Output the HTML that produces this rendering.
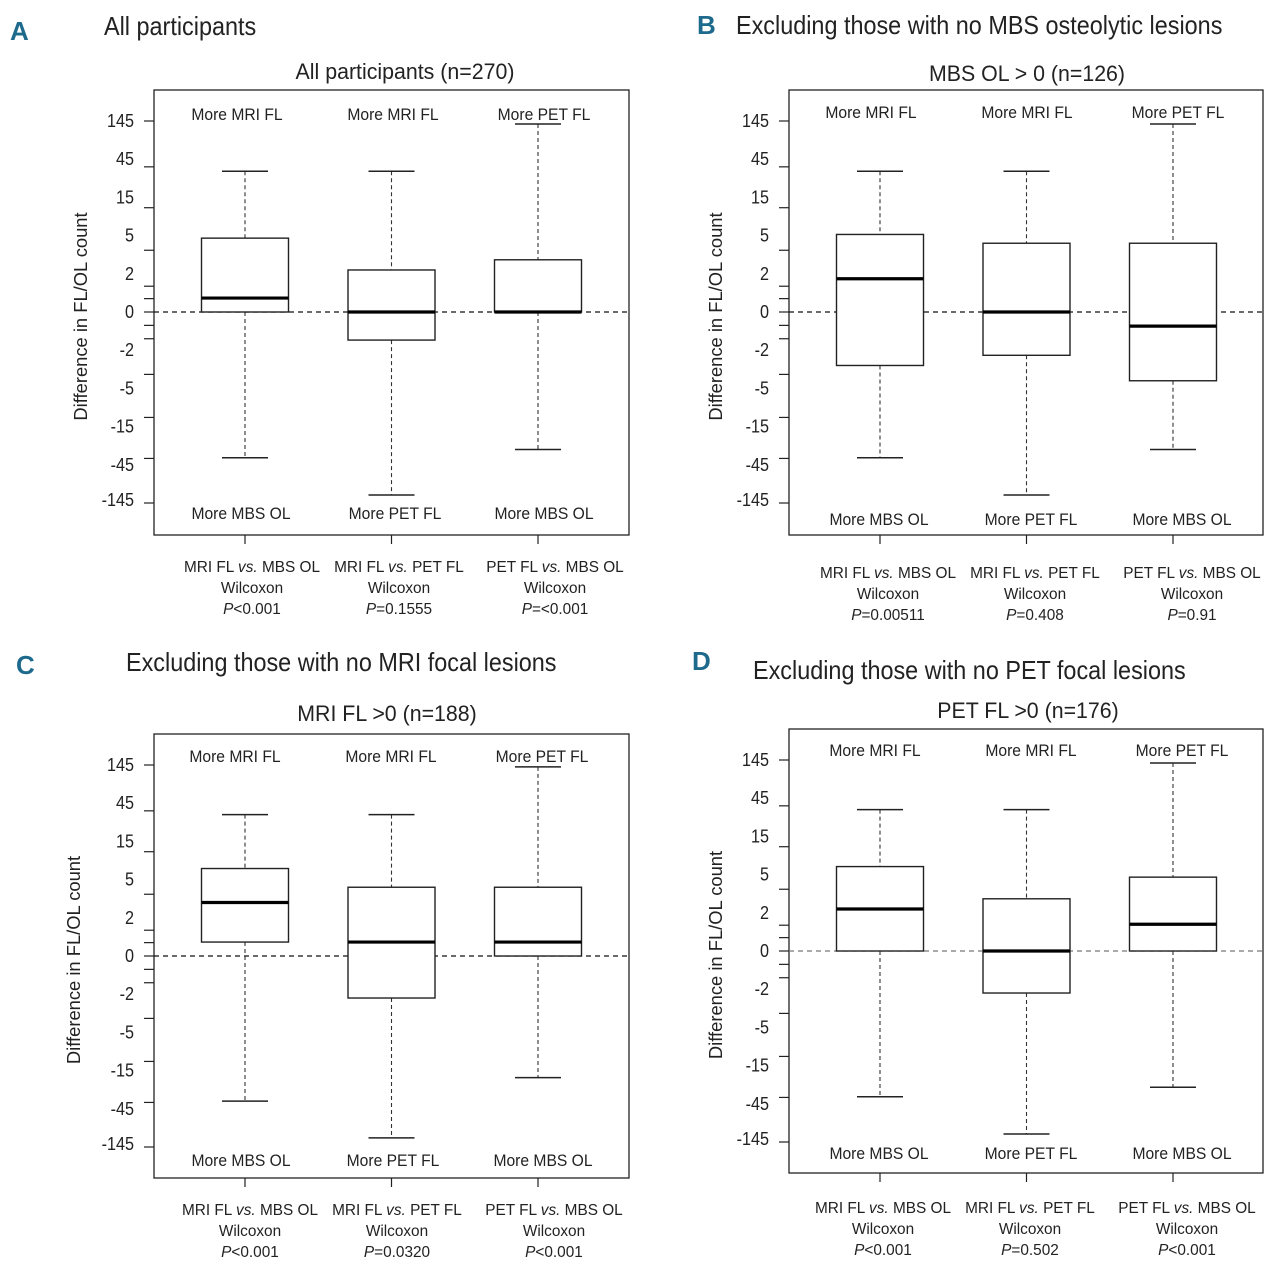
<!DOCTYPE html>
<html><head><meta charset="utf-8"><style>
html,body{margin:0;padding:0;background:#fff}
svg{display:block;font-family:"Liberation Sans Narrow","Liberation Sans",sans-serif;fill:#222}
.ttl{font-size:26px}.sub{font-size:22px}.in{font-size:17px}.xl{font-size:16px}.tk{font-size:18px}.lt{font-size:26px;font-weight:bold;fill:#1d6a8c;font-family:"Liberation Sans",sans-serif}
</style></head><body>
<svg id="chart" width="1280" height="1273" viewBox="0 0 1280 1273" xmlns="http://www.w3.org/2000/svg"></svg>
<script>
// shared axis tick labels (signed pseudo-log scale)
const scaleLabels=[-145,-45,-15,-5,-2,0,2,5,15,45,145];
const tickValues=[145,39,12.3,3.85,1.35,0.7,0,-0.7,-1.4,-3.9,-12.6,-40,-145];
const categories=["MRI FL vs. MBS OL","MRI FL vs. PET FL","PET FL vs. MBS OL"];
const topNotes=["More MRI FL","More MRI FL","More PET FL"];
const bottomNotes=["More MBS OL","More PET FL","More MBS OL"];
// Panel A
const aLow=[-39.5,-124,-33];const aQ1=[0,-1.47,0];const aMed=[0.73,0,0];const aQ3=[4.8,2.3,3.1];const aHigh=[35.5,35.5,137];
const aP=["P<0.001","P=0.1555","P=<0.001"];
// Panel B
const bLow=[-39.5,-124,-33];const bQ1=[-3.2,-2.4,-4.4];const bMed=[1.74,0,-0.74];const bQ3=[5.3,4.4,4.4];const bHigh=[35.5,35.5,137];
const bP=["P=0.00511","P=0.408","P=0.91"];
// Panel C
const cLow=[-39,-121,-20.5];const cQ1=[0.73,-2.3,0];const cMed=[3.2,0.73,0.73];const cQ3=[7.9,4.4,4.4];const cHigh=[36,36,140];
const cP=["P<0.001","P=0.0320","P<0.001"];
// Panel D
const dLow=[-39.5,-124,-32];const dQ1=[0,-2.3,0];const dMed=[2.3,0,1.4];const dQ3=[7.1,3.1,4.8];const dHigh=[36,36,137];
const dP=["P<0.001","P=0.502","P<0.001"];

const NS="http://www.w3.org/2000/svg";
const svg=document.getElementById('chart');
function mk(tag,attrs,parent,txt){const e=document.createElementNS(NS,tag);for(const k in attrs)e.setAttribute(k,attrs[k]);if(txt!==undefined)e.textContent=txt;(parent||svg).appendChild(e);return e;}

const panels=[
 {id:'a',letter:'A',lx:10,ly:40,title:'All participants',tx:104,ty:35,sub:'All participants (n=270)',sx:405,sy:79,box:[154,90,629,535],zero:312,titleY:87,
  low:aLow,q1:aQ1,med:aMed,q3:aQ3,high:aHigh,p:aP,xl:[252,399,555],xly:566,inT:114,inB:513,inTx:[237,393,544],inBx:[241,395,544],dashCol:'#111'},
 {id:'b',letter:'B',lx:697,ly:34,title:'Excluding those with no MBS osteolytic lesions',tx:736,ty:34,sub:'MBS OL > 0 (n=126)',sx:1027,sy:81,box:[789,90,1263,535],zero:312,titleY:722,
  low:bLow,q1:bQ1,med:bMed,q3:bQ3,high:bHigh,p:bP,xl:[888,1035,1192],xly:572,inT:112,inB:519,inTx:[871,1027,1178],inBx:[879,1031,1182],dashCol:'#111'},
 {id:'c',letter:'C',lx:16,ly:674,title:'Excluding those with no MRI focal lesions',tx:126,ty:671,sub:'MRI FL >0 (n=188)',sx:387,sy:721,box:[154,734,629,1178],zero:956,titleY:80,
  low:cLow,q1:cQ1,med:cMed,q3:cQ3,high:cHigh,p:cP,xl:[250,397,554],xly:1209,inT:756,inB:1160,inTx:[235,391,542],inBx:[241,393,543],dashCol:'#111'},
 {id:'d',letter:'D',lx:692,ly:670,title:'Excluding those with no PET focal lesions',tx:753,ty:679,sub:'PET FL >0 (n=176)',sx:1028,sy:718,box:[789,729,1263,1173],zero:951,titleY:722,
  low:dLow,q1:dQ1,med:dMed,q3:dQ3,high:dHigh,p:dP,xl:[883,1030,1187],xly:1207,inT:750,inB:1153,inTx:[875,1031,1182],inBx:[879,1031,1182],dashCol:'#777'}
];
const STEP=38.2;
function yScale(v,zero){
  const L=scaleLabels;let idx;
  if(v<=L[0])idx=0;else if(v>=L[L.length-1])idx=L.length-1;else{
    for(let i=0;i<L.length-1;i++){if(v>=L[i]&&v<=L[i+1]){idx=i+(v-L[i])/(L[i+1]-L[i]);break;}}
  }
  return zero-(idx-5)*STEP;
}
panels.forEach(P=>{
  const g=mk('g',{});
  
  
  const [x0,y0,x1,y1]=P.box;
  const y=v=>yScale(v,P.zero);
  let t=mk('text',{x:P.lx,y:P.ly,class:'lt'},g,P.letter);
  
  
  t=mk('text',{x:P.tx,y:P.ty,class:'ttl'},g,P.title);
  
  
  t=mk('text',{x:P.sx,y:P.sy,class:'sub','text-anchor':'middle'},g,P.sub);
  
  
  const fr=mk('rect',{x:x0,y:y0,width:x1-x0,height:y1-y0,fill:'none',stroke:'#222','stroke-width':1.3},g);
  
  
  tickValues.forEach(v=>{
    const l=mk('line',{x1:x0-10,x2:x0,y1:y(v),y2:y(v),stroke:'#222','stroke-width':1.2},g);
    
    
  });
  scaleLabels.forEach((v,i)=>{
    const ly=(v===-145)?y(v)+3:y(v)+6;
    const tx=mk('text',{x:x0-20,y:ly,class:'tk','text-anchor':'end'},g,String(v));
    
    
  });
  const yt=mk('text',{x:0,y:0,class:'tk ytitle','text-anchor':'middle',transform:`translate(${P.titleY},${(y0+y1)/2+4}) rotate(-90)`},g,'Difference in FL/OL count');
  
  
  const zl=mk('line',{x1:x0,x2:x1,y1:y(0),y2:y(0),stroke:P.dashCol,'stroke-width':1.3,'stroke-dasharray':'5,4'},g);
  
  
  const cx=[0,1,2].map(i=>x0+91+i*146.5);
  const bw=87,cw=46;
  categories.forEach((c,i)=>{
    const bg=mk('g',{},g);
    
    
    const X=cx[i];
    mk('line',{x1:X,x2:X,y1:y(P.high[i]),y2:y(P.q3[i]),stroke:'#333','stroke-width':1.1,'stroke-dasharray':'4,3'},bg);
    mk('line',{x1:X,x2:X,y1:y(P.q1[i]),y2:y(P.low[i]),stroke:'#333','stroke-width':1.1,'stroke-dasharray':'4,3'},bg);
    mk('line',{x1:X-cw/2,x2:X+cw/2,y1:y(P.high[i]),y2:y(P.high[i]),stroke:'#222','stroke-width':1.5},bg);
    mk('line',{x1:X-cw/2,x2:X+cw/2,y1:y(P.low[i]),y2:y(P.low[i]),stroke:'#222','stroke-width':1.5},bg);
    const r=mk('rect',{x:X-bw/2,y:y(P.q3[i]),width:bw,height:Math.max(0.1,y(P.q1[i])-y(P.q3[i])),fill:'#fff',stroke:'#222','stroke-width':1.4},bg);
    
    mk('line',{x1:X-bw/2,x2:X+bw/2,y1:y(P.med[i]),y2:y(P.med[i]),stroke:'#000','stroke-width':3.2},bg);
    mk('line',{x1:X,x2:X,y1:y1,y2:y1+9,stroke:'#222','stroke-width':1.2},bg);
    let n=mk('text',{x:P.inTx[i],y:P.inT+6,class:'in','text-anchor':'middle'},g,topNotes[i]);
    
    
    n=mk('text',{x:P.inBx[i],y:P.inB+6,class:'in','text-anchor':'middle'},g,bottomNotes[i]);
    
    
    const parts=c.split(' vs. ');
    const l1=mk('text',{x:P.xl[i],y:P.xly+6,class:'xl','text-anchor':'middle'},g);
    
    
    mk('tspan',{},l1,parts[0]+' ');
    mk('tspan',{'font-style':'italic'},l1,'vs.');
    mk('tspan',{},l1,' '+parts[1]);
    const l2=mk('text',{x:P.xl[i],y:P.xly+27,class:'xl','text-anchor':'middle'},g,'Wilcoxon');
    
    
    const l3=mk('text',{x:P.xl[i],y:P.xly+48,class:'xl','text-anchor':'middle'},g);
    
    
    mk('tspan',{'font-style':'italic'},l3,'P');
    mk('tspan',{},l3,P.p[i].slice(1));
  });
});
// condense text horizontally to mimic the narrow reference font
const squeeze={ttl:0.9,sub:0.97,in:0.92,xl:0.96,tk:0.9};
document.querySelectorAll('#chart text').forEach(el=>{
  const cls=el.getAttribute('class');
  if(cls==='lt')return;
  let f=cls.indexOf('ytitle')>=0?1.02:(squeeze[cls]||0.9);
  const w=el.getComputedTextLength();
  el.setAttribute('textLength',(w*f).toFixed(1));
  el.setAttribute('lengthAdjust','spacingAndGlyphs');
});
</script>
</body></html>
